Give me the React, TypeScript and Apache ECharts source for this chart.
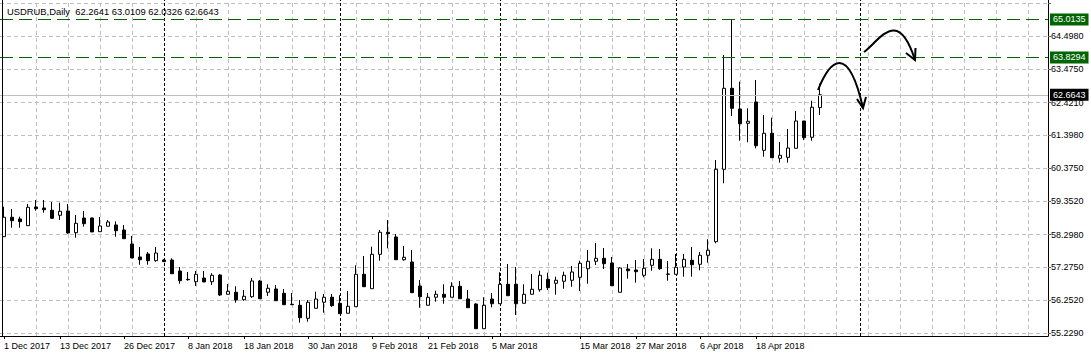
import React, { useEffect, useRef } from "react";
import * as echarts from "echarts";

const symbol = "USDRUB";
const period = "Daily";

const opens = [58.235, 58.840, 58.787, 58.578, 59.162, 59.130, 59.059, 58.903, 59.037, 58.360,
  58.818, 58.818, 58.391, 58.560, 58.600, 58.444, 58.006, 57.601, 57.694, 57.485,
  57.507, 57.507, 57.164, 56.905, 56.830, 56.945, 56.830, 57.039, 56.437, 56.500,
  56.268, 56.362, 56.852, 56.500, 56.602, 56.468, 56.125, 56.094, 55.688, 56.000,
  56.188, 56.344, 56.156, 55.844, 56.050, 57.061, 56.611, 57.685, 58.373, 58.226,
  57.516, 57.445, 56.696, 56.094, 56.344, 56.437, 56.344, 56.687, 56.290, 56.134,
  55.363, 56.290, 56.143, 56.749, 56.749, 56.156, 56.437, 56.580, 56.905, 56.780,
  56.843, 56.874, 56.968, 57.235, 57.467, 57.560, 57.414, 56.500, 57.226, 57.195,
  57.030, 57.342, 57.529, 57.070, 57.061, 57.289, 57.498, 57.373, 57.654, 58.078,
  60.338, 62.866, 62.220, 61.774, 62.439, 60.931, 61.462, 60.681, 60.712, 60.993,
  61.846, 61.337, 62.2641];

const highs = [59.171, 59.099, 58.859, 59.255, 59.380, 59.380, 59.318, 59.296, 59.255, 58.912,
  59.037, 58.830, 58.850, 58.756, 58.715, 58.600, 58.257, 57.913, 57.757, 57.913,
  57.529, 57.560, 57.289, 57.133, 57.164, 57.164, 57.092, 57.061, 56.758, 56.687,
  56.571, 56.945, 56.883, 56.749, 56.727, 56.602, 56.477, 56.259, 56.259, 56.518,
  56.446, 56.446, 56.406, 56.540, 57.342, 57.632, 57.922, 58.444, 58.756, 58.319,
  57.944, 57.819, 56.883, 56.477, 56.549, 56.749, 56.812, 56.852, 56.571, 56.156,
  56.344, 56.477, 57.124, 57.382, 57.289, 56.749, 57.070, 57.173, 57.111, 56.986,
  57.142, 57.320, 57.485, 57.819, 58.037, 57.881, 57.601, 57.280, 57.382, 57.507,
  57.538, 57.872, 57.850, 57.476, 57.694, 57.694, 57.913, 57.757, 58.154, 60.628,
  63.905, 65.0135, 63.072, 62.242, 63.125, 62.033, 61.949, 61.190, 61.596, 62.158,
  61.846, 62.479, 63.0109];

const lows = [58.226, 58.516, 58.516, 58.570, 59.046, 58.984, 58.787, 58.756, 58.329, 58.204,
  58.547, 58.382, 58.391, 58.560, 58.235, 58.173, 57.569, 57.360, 57.360, 57.454,
  57.445, 57.079, 56.767, 56.861, 56.696, 56.821, 56.727, 56.384, 56.437, 56.175,
  56.237, 56.331, 56.299, 56.384, 56.237, 56.112, 56.103, 55.551, 55.582, 56.000,
  55.863, 56.050, 55.831, 55.844, 56.050, 56.674, 56.611, 57.485, 57.872, 57.516,
  57.485, 56.487, 56.019, 56.094, 56.206, 56.143, 56.344, 56.299, 56.019, 55.363,
  55.363, 56.032, 56.143, 56.393, 55.791, 56.156, 56.437, 56.518, 56.571, 56.424,
  56.611, 56.674, 56.540, 56.767, 57.351, 57.226, 56.705, 56.500, 56.923, 56.799,
  56.968, 57.173, 57.204, 56.861, 57.061, 56.986, 56.986, 57.186, 57.423, 58.028,
  59.901, 62.002, 61.230, 61.181, 60.993, 60.731, 60.700, 60.544, 60.544, 60.993,
  61.252, 61.230, 62.0326];

const closes = [58.840, 58.734, 58.703, 59.152, 59.109, 59.077, 58.809, 59.027, 58.350, 58.653,
  58.641, 58.382, 58.569, 58.694, 58.422, 58.173, 57.569, 57.516, 57.485, 57.725,
  57.454, 57.079, 56.861, 56.892, 57.061, 56.821, 57.030, 56.415, 56.531, 56.259,
  56.375, 56.852, 56.299, 56.624, 56.237, 56.112, 56.112, 55.707, 56.188, 56.290,
  56.344, 56.081, 55.831, 56.063, 57.061, 56.674, 57.685, 58.373, 58.328, 57.516,
  57.592, 56.487, 56.362, 56.344, 56.437, 56.344, 56.687, 56.299, 56.019, 55.363,
  56.094, 56.143, 56.749, 56.393, 56.143, 56.437, 56.593, 57.030, 56.643, 56.874,
  57.030, 57.133, 57.404, 57.467, 57.560, 57.391, 56.705, 57.257, 57.173, 57.142,
  57.248, 57.529, 57.235, 57.061, 57.280, 57.529, 57.360, 57.654, 57.810, 60.338,
  62.866, 62.242, 61.761, 61.837, 61.074, 61.462, 60.700, 60.775, 61.002, 61.846,
  61.325, 62.274, 62.6643];

// bar slots on the time axis (bars plus the empty shift area on the right)
const slotCount = 131;
const tickLabels = ["1 Dec 2017", "13 Dec 2017", "26 Dec 2017", "8 Jan 2018", "18 Jan 2018",
  "30 Jan 2018", "9 Feb 2018", "21 Feb 2018", "5 Mar 2018", "15 Mar 2018", "27 Mar 2018",
  "6 Apr 2018", "18 Apr 2018"];
const tickBars = [0, 7, 15, 23, 30, 38, 46, 53, 61, 72, 79, 87, 94];
const periodSeparators = [20, 42, 62, 84, 107];
const gridEvery = 4;

const priceLevels = [65.0135, 63.8294];
const yTickLabels = [55.229, 56.252, 57.275, 58.298, 59.352, 60.375, 61.398, 62.421, 63.475, 64.498];
const yGridExtra = [65.521];
const yMin = 55.135;
const yMax = 65.622;

const FONT = '"Liberation Sans", Arial, sans-serif';

export default function App() {
  const ref = useRef<HTMLDivElement>(null);
  useEffect(() => {
    const chart = echarts.init(ref.current!, null, { renderer: "svg" });
    const categories = Array.from({ length: slotCount }, (_, i) => String(i));
    const labelOf = (i: number) => {
      const k = tickBars.indexOf(i);
      return k >= 0 ? tickLabels[k] : "";
    };
    const candles = opens.map((o, i) => [o, closes[i], lows[i], highs[i]]);
    const last = opens.length - 1;
    const bid = closes[last];
    const header = `${symbol},${period}\u00a0\u00a0${opens[last].toFixed(4)} ${highs[last].toFixed(4)} ${lows[last].toFixed(4)} ${closes[last].toFixed(4)}`;

    const gridLines: any[] = [];
    for (let i = gridEvery; i < slotCount; i += gridEvery) {
      if (periodSeparators.includes(i)) continue;
      gridLines.push({ xAxis: String(i), lineStyle: { color: "#c0c0c0", type: [4, 3], width: 1 } });
    }
    periodSeparators.forEach((i) =>
      gridLines.push({ xAxis: String(i), lineStyle: { color: "#000", type: [3, 2], width: 1 } })
    );

    const levelLabel = (bg: string) => ({
      show: true,
      position: "end",
      distance: 2,
      formatter: (p: any) => Number(p.value).toFixed(4),
      backgroundColor: bg,
      color: "#fff",
      padding: [2, 3, 1, 3],
      fontSize: 9,
      fontFamily: FONT,
    });

    const option: any = {
      animation: false,
      backgroundColor: "#fff",
      grid: { left: 0, right: 43, top: 0, bottom: 21, containLabel: false, outerBoundsMode: "none" },
      xAxis: {
        type: "category",
        data: categories,
        boundaryGap: true,
        axisLine: { show: true, lineStyle: { color: "#000", width: 1 } },
        axisTick: {
          show: true,
          alignWithLabel: true,
          length: 3,
          interval: (i: number) => tickBars.includes(i),
          lineStyle: { color: "#000" },
        },
        axisLabel: {
          interval: (i: number) => tickBars.includes(i),
          formatter: (_v: string, i: number) => labelOf(i),
          align: "left",
          margin: 5,
          color: "#000",
          fontSize: 9,
          fontFamily: FONT,
        },
        splitLine: { show: false },
      },
      yAxis: {
        type: "value",
        position: "right",
        min: yMin,
        max: yMax,
        axisLine: { show: true, lineStyle: { color: "#000", width: 1 } },
        axisTick: {
          show: true,
          length: 3,
          customValues: [...yTickLabels, ...yGridExtra],
          lineStyle: { color: "#606060" },
        },
        axisLabel: {
          customValues: yTickLabels,
          formatter: (v: number) => v.toFixed(4),
          margin: 3,
          color: "#000",
          fontSize: 9,
          fontFamily: FONT,
        },
        splitLine: { show: true, lineStyle: { color: "#c0c0c0", type: [4, 3], width: 1 } },
      },
      series: [
        {
          type: "line",
          data: [],
          silent: true,
          z: 1,
          markLine: {
            silent: true,
            z: 1,
            symbol: ["none", "none"],
            label: { show: false },
            emphasis: { disabled: true },
            data: gridLines,
          },
        },
        {
          type: "candlestick",
          data: candles,
          barWidth: 4,
          z: 2,
          silent: true,
          itemStyle: {
            color: "#ffffff",
            color0: "#000000",
            borderColor: "#000000",
            borderColor0: "#000000",
            borderColorDoji: "#000000",
            borderWidth: 1,
          },
          emphasis: { disabled: true },
          markLine: {
            silent: true,
            precision: 4,
            symbol: ["none", "none"],
            emphasis: { disabled: true },
            label: { show: false },
            data: [
              ...priceLevels.map((v) => ({
                yAxis: v,
                lineStyle: { color: "#006400", type: [13, 6], width: 1 },
                label: levelLabel("#006400"),
              })),
              {
                yAxis: bid,
                lineStyle: { color: "#c0c0c0", type: "solid", width: 1 },
                label: levelLabel("#000000"),
              },
            ],
          },
        },
      ],
      graphic: [
        { type: "line", silent: true, z: 10, shape: { x1: 2.5, y1: 0, x2: 2.5, y2: 336 }, style: { stroke: "#000", lineWidth: 1 } },
        { type: "text", silent: true, z: 10, x: 7, y: 11, style: { text: header, fill: "#000", font: `9.4px ${FONT}`, verticalAlign: "middle" } },
        {
          type: "bezierCurve", silent: true, z: 10,
          shape: { x1: 818, y1: 90, cpx1: 830, cpy1: 60, cpx2: 848, cpy2: 42, x2: 863, y2: 108 },
          style: { stroke: "#000", lineWidth: 2, fill: null },
        },
        { type: "polyline", silent: true, z: 10, shape: { points: [[857, 99], [863, 108], [866, 97]] }, style: { stroke: "#000", lineWidth: 2, fill: null } },
        {
          type: "bezierCurve", silent: true, z: 10,
          shape: { x1: 864, y1: 52, cpx1: 880, cpy1: 40, cpx2: 898, cpy2: 6, x2: 915, y2: 60 },
          style: { stroke: "#000", lineWidth: 2, fill: null },
        },
        { type: "polyline", silent: true, z: 10, shape: { points: [[906, 53], [915, 60], [915.5, 48]] }, style: { stroke: "#000", lineWidth: 2, fill: null } },
      ],
    };
    chart.setOption(option);
    return () => chart.dispose();
  }, []);
  return (
    <div
      ref={ref}
      style={{ position: "absolute", left: 0, top: 0, width: 1091, height: 357, background: "#fff" }}
    />
  );
}
